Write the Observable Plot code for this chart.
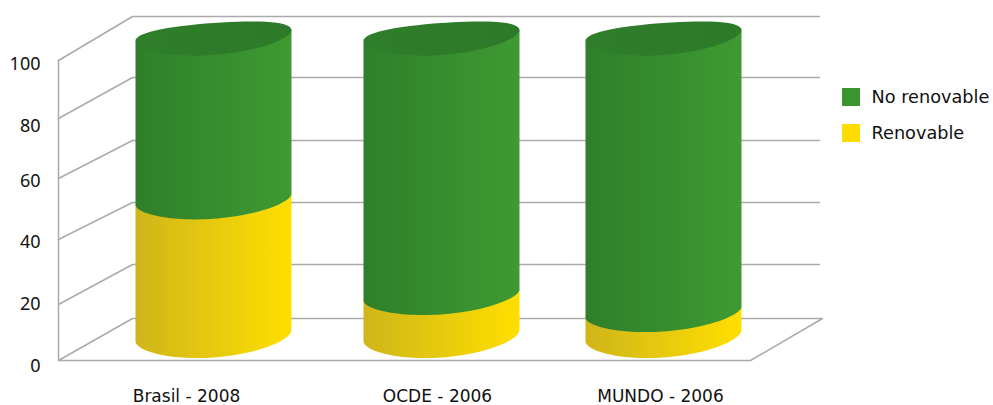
<!DOCTYPE html>
<html>
<head>
<meta charset="utf-8">
<script src="https://cdn.jsdelivr.net/npm/d3@7"></script>
<script src="https://cdn.jsdelivr.net/npm/@observablehq/plot@0.6"></script>
<style>
html,body{margin:0;padding:0;background:#fff}
svg{display:block}
</style>
</head>
<body>
<div id="chart"></div>
<script>
// Data
const categories = ["Brasil - 2008", "OCDE - 2006", "MUNDO - 2006"];
const renovable = [45, 14.5, 8.4];
const noRenovable = [55, 85.5, 91.6];
const seriesNames = ["No renovable", "Renovable"];
const yTicks = [0, 20, 40, 60, 80, 100];

// Layout (pixels)
const W = 993, H = 405;
const tickFront = [360, 304, 239, 178, 118, 60];
const tickLabelPos = [365.5, 303.5, 241.5, 180.5, 126, 64];
const wallDepth = [42, 40, 37, 38, 41, 44];
const xFront = 58, xBack = 132, xEnd = 819, xFloorFront = 750, xFloorBack = 822;
const cylCenter = [213, 441, 663];
const catLabelX = [186, 437, 660];
const catLabelY = 396;
const cylA = 78, cylLift = 25, cylTilt = 5.5, cylK = 3.5, cylB = 16, baseB = 18.5;
const legendX = 842, legendSize = 18, legendTextX = 871, legendY = [97, 133];
const font = "DejaVu Sans", digitFont = "Noto Sans";
const green = "#3a952f", yellow = "#ffdc00", grid = "#aaaaaa";

const ys = d3.scaleLinear().domain(yTicks).range(tickFront);
const py = p => ys.invert(p);

// One elliptic arc at a given stack value, returned in data coordinates
function arc(cx, value, t0, t1, b) {
  const c = ys(value) - cylLift;
  return d3.range(0, 61).map(i => {
    const t = t0 + (t1 - t0) * i / 60;
    return {
      x: cx + cylA * Math.cos(t),
      y: py(c + b * Math.sin(t) - cylTilt * Math.cos(t) + cylK * Math.sin(t) ** 2)
    };
  });
}
// Side of a segment: front arc of the lower end, then the upper end's back edge
function side(cx, v0, v1, b) {
  return [...arc(cx, v0, Math.PI, 0, b), ...arc(cx, v1, 0, Math.PI, 0)];
}

const marks = [];
marks.push(() => {
  const svgNS = "http://www.w3.org/2000/svg";
  const defs = document.createElementNS(svgNS, "defs");
  defs.innerHTML = `
   <linearGradient id="gGreen"><stop offset="0" stop-color="#2f7f2a"/><stop offset="1" stop-color="#3e9a32"/></linearGradient>
   <linearGradient id="gYellow"><stop offset="0" stop-color="#cfb51a"/><stop offset="1" stop-color="#ffdf00"/></linearGradient>
   <linearGradient id="gTop"><stop offset="0" stop-color="#2f7e2a"/><stop offset="1" stop-color="#2d7a29"/></linearGradient>`;
  return defs;
});

// Frame
const lineOpts = {x: "x", y: "y", stroke: grid, strokeWidth: 1.5};
marks.push(Plot.line([{x: xFront, y: py(tickFront[5])}, {x: xFront, y: py(tickFront[0])}, {x: xFloorFront, y: py(tickFront[0])}, {x: xFloorBack, y: py(tickFront[0] - wallDepth[0])}, {x: xBack, y: py(tickFront[0] - wallDepth[0])}, {x: xFront, y: py(tickFront[0])}], lineOpts));
yTicks.slice(1).forEach((t, i) => {
  const back = tickFront[i + 1] - wallDepth[i + 1];
  marks.push(Plot.line([{x: xFront, y: t}, {x: xBack, y: py(back)}, {x: xEnd, y: py(back)}], lineOpts));
});

// Cylinders
categories.forEach((name, i) => {
  const cx = cylCenter[i];
  const r = renovable[i], top = r + noRenovable[i];
  marks.push(Plot.line(side(cx, 0, r, baseB), {x: "x", y: "y", fill: "url(#gYellow)", stroke: "none", curve: "linear"}));
  marks.push(Plot.line(side(cx, r, top, cylB), {x: "x", y: "y", fill: "url(#gGreen)", stroke: "none", curve: "linear"}));
  marks.push(Plot.line(arc(cx, top, 0, 2 * Math.PI, cylB), {x: "x", y: "y", fill: "url(#gTop)", stroke: "none", curve: "linear"}));
  marks.push(Plot.text([name], {x: catLabelX[i], y: py(catLabelY), text: d => d, textAnchor: "middle", fontSize: 17, fontFamily: font, fill: "#111"}));
});

// Value axis labels
marks.push(Plot.text(yTicks, {x: 40, y: (d, i) => py(tickLabelPos[i]), text: d => String(d), textAnchor: "end", fontSize: 18, fontFamily: digitFont, fill: "#111"}));

// Legend
seriesNames.forEach((name, i) => {
  marks.push(Plot.rect([name], {x1: legendX, x2: legendX + legendSize, y1: py(legendY[i] - legendSize / 2), y2: py(legendY[i] + legendSize / 2), fill: i === 0 ? green : yellow}));
  marks.push(Plot.text([name], {x: legendTextX, y: py(legendY[i]), text: d => d, textAnchor: "start", fontSize: 17.7, fontFamily: font, fill: "#111"}));
});

const chart = Plot.plot({
  width: W, height: H,
  marginTop: 0, marginRight: 0, marginBottom: 0, marginLeft: 0,
  x: {type: "linear", domain: [0, W], range: [0, W], axis: null},
  y: {type: "linear", domain: yTicks, range: tickFront, axis: null},
  marks
});
document.getElementById("chart").appendChild(chart);
</script>
</body>
</html>
